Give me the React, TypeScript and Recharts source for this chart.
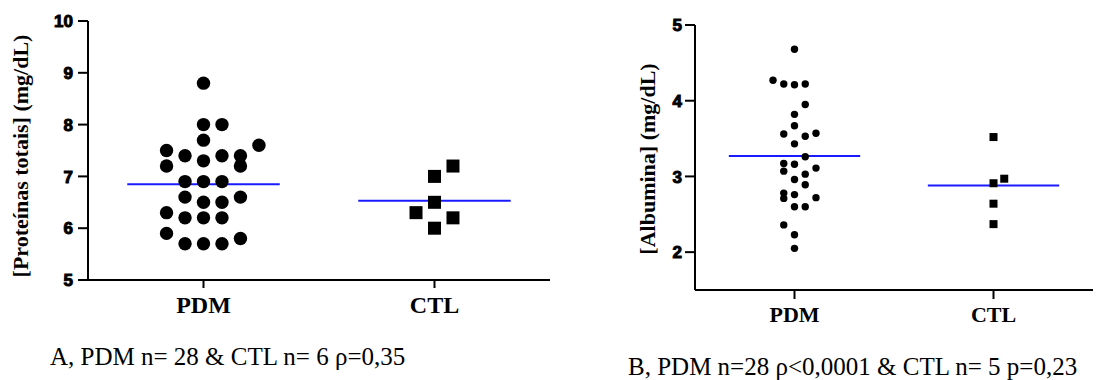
import { ScatterChart, Scatter, XAxis, YAxis, ReferenceLine } from 'recharts';

const categories = ['PDM', 'CTL'];

// Painel A - proteínas totais (mg/dL)
const proteinasPdm = [8.8, 8.0, 8.0, 7.7, 7.6, 7.5, 7.4, 7.4, 7.4, 7.3, 7.2, 7.2, 6.9, 6.9, 6.9, 6.6, 6.6, 6.5, 6.5, 6.3, 6.2, 6.2, 6.2, 5.9, 5.8, 5.7, 5.7, 5.7];
const proteinasPdmCol = [0, 0, 1, 0, 3, -2, -1, 1, 2, 0, -2, 2, -1, 0, 1, -1, 2, 0, 1, -2, -1, 0, 1, -2, 2, -1, 0, 1];
const proteinasCtl = [7.2, 7.0, 6.5, 6.3, 6.2, 6.0];
const proteinasCtlCol = [1, 0, 0, -1, 1, 0];
const proteinasMedias = [6.85, 6.53];
const proteinasTicks = [5, 6, 7, 8, 9, 10];

// Painel B - albumina (mg/dL)
const albuminaPdm = [4.68, 4.27, 4.22, 4.21, 4.22, 3.95, 3.82, 3.67, 3.56, 3.53, 3.57, 3.43, 3.26, 3.17, 3.16, 3.11, 3.07, 3.03, 2.96, 2.89, 2.78, 2.76, 2.71, 2.72, 2.6, 2.6, 2.36, 2.23, 2.05];
const albuminaPdmCol = [0, -2, -1, 0, 1, 1, 0, 0, -1, 1, 2, 0, 1, -1, 0, 2, -1, 1, 0, 1, -1, 0, -1, 2, 0, 1, -1, 0, 0];
const albuminaCtl = [3.52, 2.97, 2.91, 2.64, 2.37];
const albuminaCtlCol = [0, 1, 0, 0, 0];
const albuminaMedias = [3.27, 2.88];
const albuminaTicks = [2, 3, 4, 5];

const toPoints = (vals: number[], cols: number[], group: number, step: number) =>
  vals.map((v, i) => ({ x: group + 0.5 + cols[i] * step, y: v }));

const BLUE = '#1a1aff';
const axisStyle = { stroke: '#000', strokeWidth: 2 };

const YTick = (props: any) => (
  <text
    x={props.x}
    y={props.y}
    dy="0.36em"
    textAnchor="end"
    fontFamily="Liberation Sans"
    fontWeight="bold"
    fontSize={17}
    fill="#000"
    stroke="#000"
    strokeWidth={1}
  >
    {props.payload.value}
  </text>
);

const dot = (r: number) => (p: any) => <circle cx={p.cx} cy={p.cy} r={r} fill="#000" />;
const square = (s: number) => (p: any) => <rect x={p.cx - s / 2} y={p.cy - s / 2} width={s} height={s} fill="#000" />;

interface PanelProps {
  left: number;
  width: number;
  margin: { top: number; right: number; bottom: number; left: number };
  pdm: { x: number; y: number }[];
  ctl: { x: number; y: number }[];
  medias: number[];
  domain: [number, number];
  ticks: number[];
  r: number;
  s: number;
  xFont: number;
  xTickSize: number;
  xTickMargin: number;
  yTickMargin: number;
}

const Panel = (p: PanelProps) => (
  <div style={{ position: 'absolute', left: p.left, top: 0 }}>
    <ScatterChart width={p.width} height={330} margin={p.margin}>
      <XAxis
        type="number"
        dataKey="x"
        domain={[0, 2]}
        ticks={[0.5, 1.5]}
        tickFormatter={(v: number) => categories[Math.floor(v)]}
        axisLine={axisStyle}
        tickLine={axisStyle}
        tickSize={p.xTickSize}
        tickMargin={p.xTickMargin}
        height={30}
        tick={{ fill: '#000', fontFamily: 'Liberation Serif', fontWeight: 'bold', fontSize: p.xFont }}
      />
      <YAxis
        type="number"
        dataKey="y"
        domain={p.domain}
        ticks={p.ticks}
        allowDataOverflow
        width={60}
        axisLine={axisStyle}
        tickLine={axisStyle}
        tickSize={10}
        tickMargin={p.yTickMargin}
        tick={<YTick />}
      />
      <Scatter data={p.pdm} shape={dot(p.r)} isAnimationActive={false} />
      <Scatter data={p.ctl} shape={square(p.s)} isAnimationActive={false} />
      {p.medias.map((m, i) => (
        <ReferenceLine
          key={i}
          segment={[{ x: i + 0.17, y: m }, { x: i + 0.83, y: m }]}
          stroke={BLUE}
          strokeWidth={2}
        />
      ))}
    </ScatterChart>
  </div>
);

export default function App() {
  const titleFont = { fontFamily: 'Liberation Serif', fontWeight: 'bold' as const, fontSize: 22 };
  const capFont = { fontFamily: 'Liberation Serif', fontSize: 25 };
  return (
    <div style={{ position: 'absolute', left: 0, top: 0, width: 1118, height: 380, background: '#fff', overflow: 'hidden' }}>
      <Panel
        left={0}
        width={560}
        margin={{ top: 21, right: 10, bottom: 20, left: 28 }}
        pdm={toPoints(proteinasPdm, proteinasPdmCol, 0, 0.08)}
        ctl={toPoints(proteinasCtl, proteinasCtlCol, 1, 0.08)}
        medias={proteinasMedias}
        domain={[5, 10]}
        ticks={proteinasTicks}
        r={6.7}
        s={13}
        xFont={24}
        xTickSize={8}
        xTickMargin={8}
        yTickMargin={5}
      />
      <Panel
        left={570}
        width={548}
        margin={{ top: 25, right: 25, bottom: 10, left: 65 }}
        pdm={toPoints(albuminaPdm, albuminaPdmCol, 0, 0.054)}
        ctl={toPoints(albuminaCtl, albuminaCtlCol, 1, 0.054)}
        medias={albuminaMedias}
        domain={[1.5, 5]}
        ticks={albuminaTicks}
        r={3.7}
        s={8}
        xFont={22}
        xTickSize={9}
        xTickMargin={7}
        yTickMargin={3}
      />
      <svg width={1118} height={380} style={{ position: 'absolute', left: 0, top: 0, pointerEvents: 'none' }}>
        <text transform="translate(28,156) rotate(-90)" textAnchor="middle" fill="#000" {...titleFont}>
          [Proteínas totais] (mg/dL)
        </text>
        <text transform="translate(655,159) rotate(-90)" textAnchor="middle" fill="#000" {...titleFont}>
          [Albumina] (mg/dL)
        </text>
        <text x={50} y={365} fill="#000" {...capFont}>A, PDM n= 28 &amp; CTL n= 6 ρ=0,35</text>
        <text x={628} y={375} fill="#000" {...capFont}>B, PDM n=28 ρ&lt;0,0001 &amp; CTL n= 5 p=0,23</text>
      </svg>
    </div>
  );
}
